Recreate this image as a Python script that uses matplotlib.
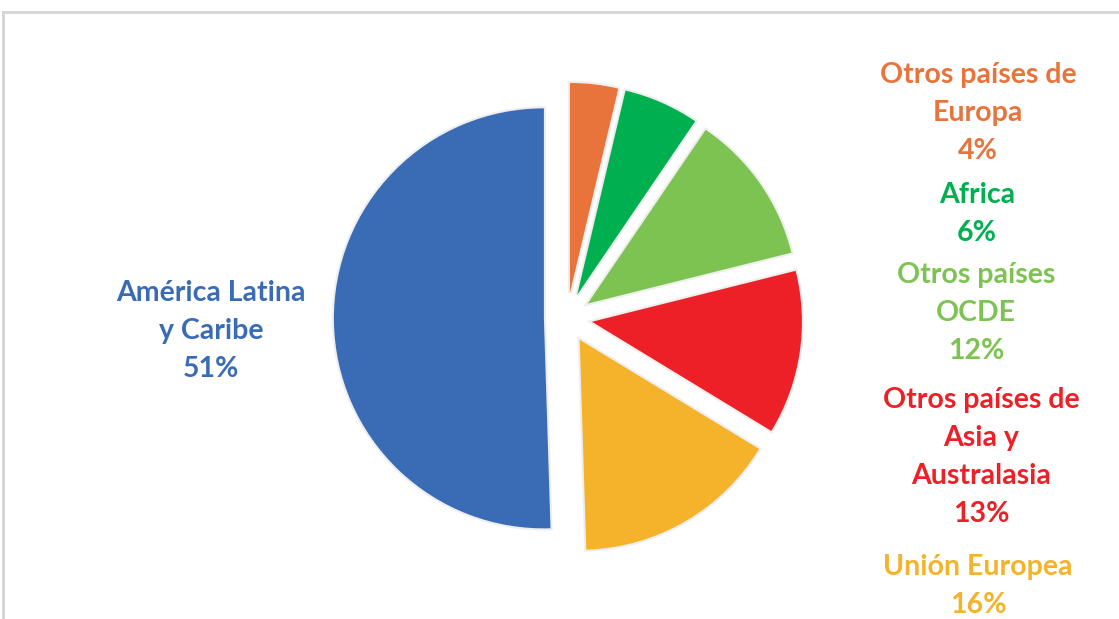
import matplotlib
matplotlib.use('Agg')
import matplotlib.pyplot as plt
import matplotlib.patheffects as pe
from matplotlib.lines import Line2D

# shares (%) clockwise from 12 o'clock
regions = ['Otros países de Europa', 'Africa', 'Otros países OCDE',
           'Otros países de Asia y Australasia', 'Unión Europea',
           'América Latina y Caribe']
shares = [3.7, 5.8, 11.6, 12.6, 15.8, 50.5]
colors = ['#E8743B', '#00B050', '#7DC352', '#ED2027', '#F4B32A', '#3A6CB5']
label_lines = [['Otros países de', 'Europa', '4%'],
               ['Africa', '6%'],
               ['Otros países', 'OCDE', '12%'],
               ['Otros países de', 'Asia y', 'Australasia', '13%'],
               ['Unión Europea', '16%'],
               ['América Latina', 'y Caribe', '51%']]
explode = [0.12, 0.12, 0.12, 0.12, 0.12, 0.11]

W, H = 1119, 619
fig = plt.figure(figsize=(W / 100, H / 100), dpi=100)
fig.patch.set_facecolor('white')

# pie centre and radius in pixels
cx, cy, r = 567, 318, 210
half = 300
ax = fig.add_axes([(cx - half) / W, (H - cy - half) / H, 2 * half / W, 2 * half / H])

wedges, _ = ax.pie(shares, colors=colors, explode=explode, startangle=90,
                   counterclock=False, radius=1)
for w in wedges:
    w.set_path_effects([pe.Stroke(linewidth=3, foreground='#eeeeee'), pe.Normal()])
ax.set_xlim(-half / r, half / r)
ax.set_ylim(-half / r, half / r)
ax.axis('off')

# labels (x centre, first line y, in pixels)
label_pos = [(978, 75), (977, 195), (976, 275), (981, 400), (978, 567), (211, 293)]
step = 38
for lines, (x, y0), c in zip(label_lines, label_pos, colors):
    for i, t in enumerate(lines):
        fig.text(x / W, 1 - (y0 + i * step) / H, t, color=c, fontsize=20.5,
                 fontweight='bold', family='Lato', ha='center', va='center')

# frame of the original chart box
fig.add_artist(Line2D([3 / W, 1], [1 - 12 / H, 1 - 12 / H], color='#d4d4d4', lw=2,
                      transform=fig.transFigure))
fig.add_artist(Line2D([3 / W, 3 / W], [0, 1 - 12 / H], color='#d4d4d4', lw=2,
                      transform=fig.transFigure))

fig.savefig('out.png', dpi=100, facecolor='white')
